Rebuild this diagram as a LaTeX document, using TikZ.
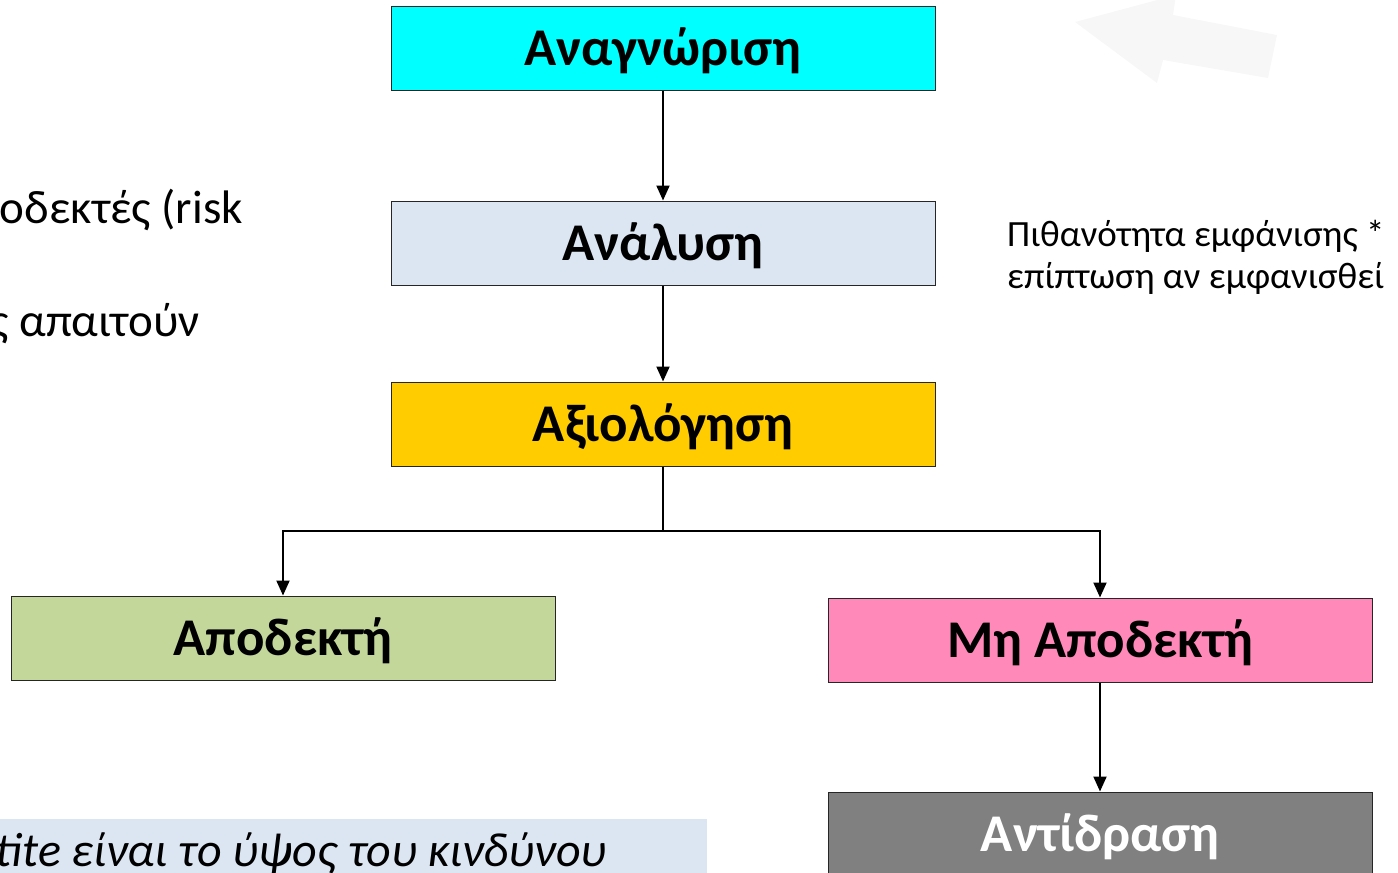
\documentclass[tikz,border=0pt]{standalone}
\usepackage{fontspec}
\setmainfont{Carlito}
\usetikzlibrary{arrows.meta}
\definecolor{cyanbox}{RGB}{0,255,255}
\definecolor{analbox}{RGB}{220,230,242}
\definecolor{axiobox}{RGB}{255,204,0}
\definecolor{apobox}{RGB}{196,215,155}
\definecolor{mhbox}{RGB}{255,137,185}
\definecolor{antbox}{RGB}{128,128,128}
\definecolor{ghost}{RGB}{247,247,247}
\tikzset{
  flowbox/.style={draw=black!85, line width=1pt, minimum width=544pt, minimum height=84pt, inner sep=0pt, text height=34pt, text depth=0pt, font=\fontsize{53}{60}\selectfont\bfseries},
  arr/.style={line width=2pt, -{Triangle[length=15pt,width=13pt]}},
  sidetext/.style={inner sep=0pt, font=\fontsize{47}{54}\selectfont},
}
\begin{document}
\begin{tikzpicture}[x=1pt,y=-1pt]
\useasboundingbox (0,0) rectangle (1398,873);
\clip (0,0) rectangle (1398,873);
% faint background arrow
\fill[ghost] (1075,22) -- (1176,-5) -- (1173,15) -- (1277,35) -- (1268,78) -- (1163,60) -- (1157,83) -- cycle;
% side texts
\node[sidetext, anchor=base east] (t1) at (243,223) {οδεκτές (risk};
\node[sidetext, anchor=base east] (t2) at (200,336) {ς απαιτούν};
\node[inner sep=0pt, anchor=base west, align=left, font=\fontsize{37}{42}\selectfont] (t3) at (1007,288) {Πιθανότητα εμφάνισης *\\επίπτωση αν εμφανισθεί};
\fill[analbox] (0,819) rectangle (707,880);
\node[sidetext, anchor=base east, font=\fontsize{48}{54}\selectfont\itshape] (t4) at (607,866) {tite είναι το ύψος του κινδύνου};
% boxes
\node[flowbox, fill=cyanbox] (a) at (663,48.5) {Αναγνώριση};
\node[flowbox, fill=analbox] (b) at (663,243) {Ανάλυση};
\node[flowbox, fill=axiobox] (c) at (663,424) {Αξιολόγηση};
\node[flowbox, fill=apobox] (d) at (283,638) {Αποδεκτή};
\node[flowbox, fill=mhbox] (e) at (1100,640) {Μη Αποδεκτή};
\node[flowbox, fill=antbox, text=white] (f) at (1100,834) {Αντίδραση};
% connectors
\coordinate (j) at (663,531);
\draw[arr] (a) -- (b);
\draw[arr] (b) -- (c);
\draw[arr] (c.south) -- (j) -| (d.north);
\draw[arr] (c.south) -- (j) -| (e.north);
\draw[arr] (e) -- (f);
\end{tikzpicture}
\end{document}
